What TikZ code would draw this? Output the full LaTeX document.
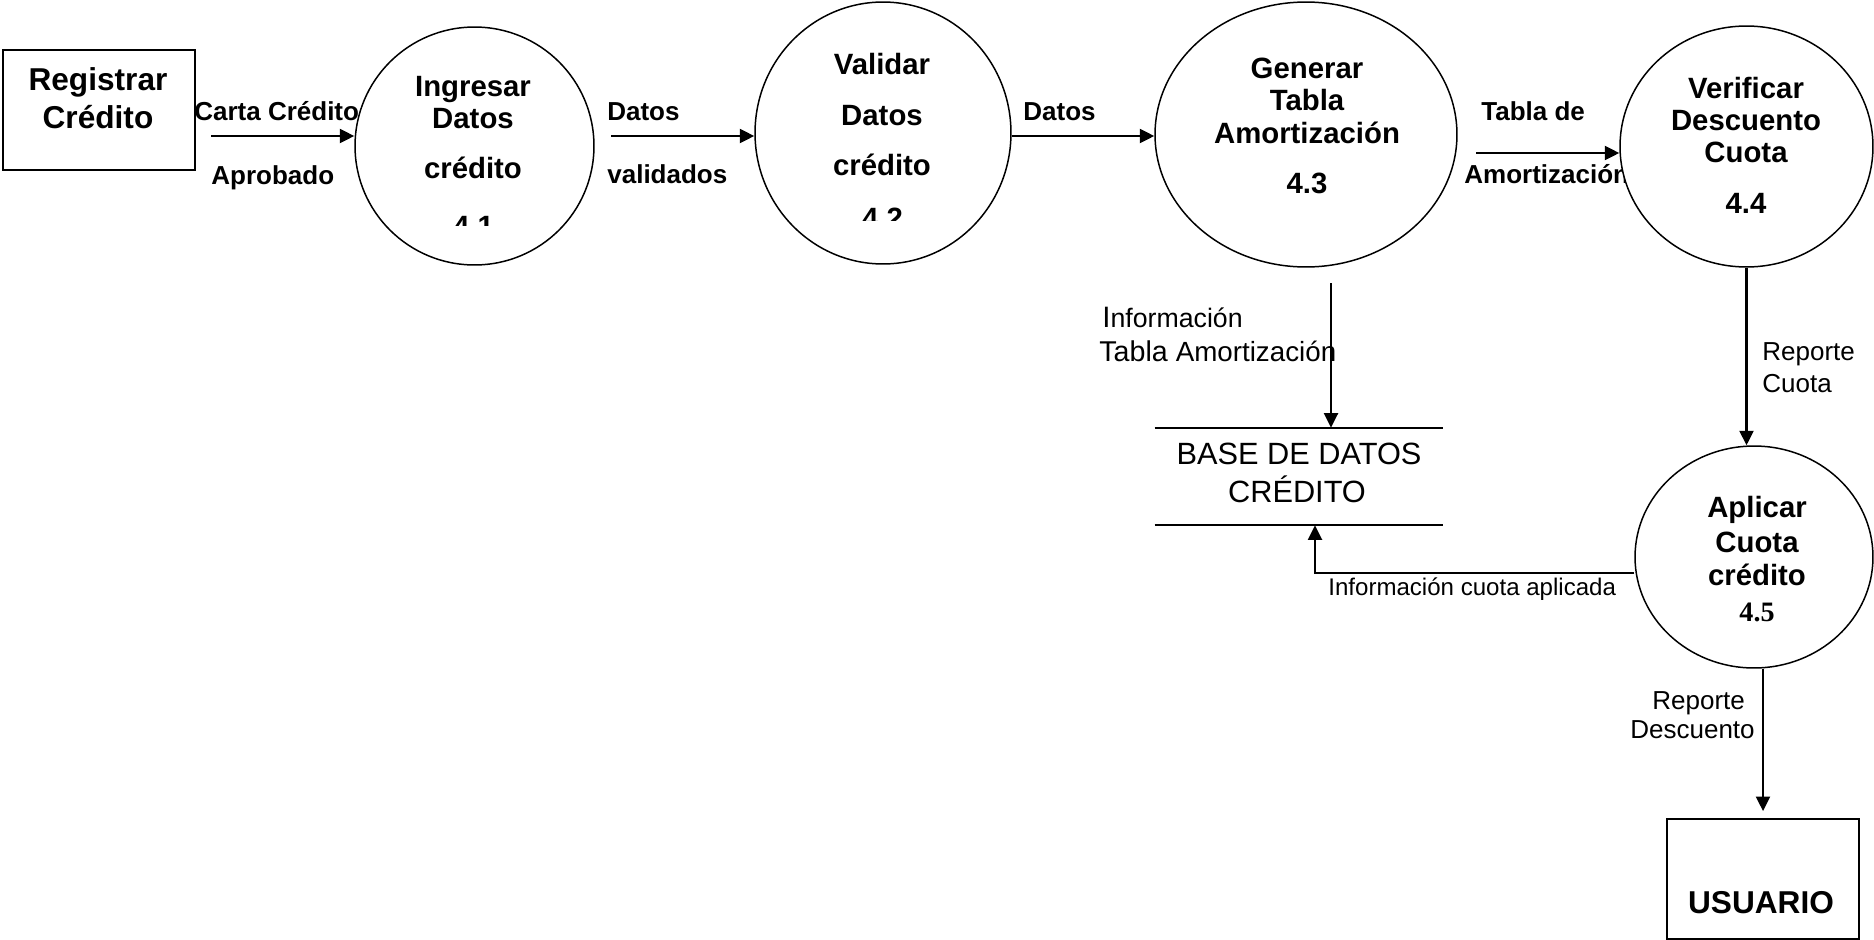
\documentclass[tikz,border=0pt]{standalone}
\usepackage{fontspec}
\setmainfont{Liberation Sans}
\newfontfamily\timesf{Liberation Serif}
\usetikzlibrary{shapes.geometric,arrows.meta}
\begin{document}
\begin{tikzpicture}[x=0.02cm,y=-0.02cm,
  proc/.style={ellipse,draw,line width=0.85pt,fill=white,inner sep=0},
  ent/.style={rectangle,draw,line width=1.1pt,inner sep=0,minimum width=3.84cm,minimum height=2.4cm},
  tb/.style={anchor=base,inner sep=0,font=\fontsize{16.7}{20}\selectfont\bfseries},
  tbox/.style={anchor=base,inner sep=0,font=\fontsize{18}{21}\selectfont\bfseries},
  lb/.style={anchor=base west,inner sep=0,font=\fontsize{14.8}{17}\selectfont\bfseries},
  lr/.style={anchor=base west,inner sep=0,font=\fontsize{14.8}{17}\selectfont},
  flow/.style={line width=1.2pt,-{Triangle[length=0.29cm,width=0.28cm]}}
]
\useasboundingbox (0,0) rectangle (1874,940);

% external entities
\node[ent] (reg) at (99,110) {};
\node[tbox] (rega) at (98,90) {Registrar};
\node[tbox] (regb) at (98,128) {Crédito};
\node[ent] (usr) at (1763,879) {};
\node[tbox] (usrt) at (1761,913) {USUARIO};

% flow labels
\node[lb] (l1a) at (194,120) {Carta Crédito};
\node[lb] (l1b) at (211,184) {Aprobado};
\node[lb] (l2a) at (607,120) {Datos};
\node[lb] (l2b) at (607,183) {validados};
\node[lb] (l3a) at (1023,120) {Datos};
\node[lb] (l4a) at (1481,120) {Tabla de};
\node[lb] (l4b) at (1464,183) {Amortización};
\node[anchor=base west,inner sep=0] (l5a) at (1102,327) {\fontsize{16.8}{19}\selectfont I\fontsize{15.2}{17}\selectfont nformación};
\node[anchor=base west,inner sep=0] (l5b) at (1099,361) {\fontsize{16.3}{18}\selectfont Tabla \fontsize{15.8}{17}\selectfont Amortización};
\node[lr] (l6a) at (1762,360) {Reporte};
\node[lr] (l6b) at (1762,392) {Cuota};
\node[anchor=base west,inner sep=0,font=\fontsize{13.7}{16}\selectfont] (l7) at (1328,595) {Información cuota aplicada};
\node[lr] (l8a) at (1652,709) {Reporte};
\node[lr] (l8b) at (1630,738) {Descuento};

% processes
\node[proc,minimum width=4.78cm,minimum height=4.76cm] (p1) at (474.5,146) {};
\node[tb] (p1a) at (473,96) {Ingresar};
\node[tb] (p1b) at (473,128) {Datos};
\node[tb] (p1c) at (473,178) {crédito};
\begin{scope}
  \clip (430,200) rectangle (520,225);
  \node[tb] (p1d) at (473.5,236) {4.1};
\end{scope}

\node[proc,minimum width=5.12cm,minimum height=5.24cm] (p2) at (883,133) {};
\node[tb] (p2a) at (882,74) {Validar};
\node[tb] (p2b) at (882,125) {Datos};
\node[tb] (p2c) at (882,175) {crédito};
\begin{scope}
  \clip (840,195) rectangle (925,220);
  \node[tb] (p2d) at (882.5,228) {4.2};
\end{scope}

\node[proc,minimum width=6.04cm,minimum height=5.30cm] (p3) at (1306,134.5) {};
\node[tb] (p3a) at (1307,78) {Generar};
\node[tb] (p3b) at (1307,110) {Tabla};
\node[tb] (p3c) at (1307,143) {Amortización};
\node[tb] (p3d) at (1307,193) {4.3};

\node[proc,minimum width=5.06cm,minimum height=4.82cm] (p4) at (1746.5,146.5) {};
\node[tb] (p4a) at (1746,98) {Verificar};
\node[tb] (p4b) at (1746,130) {Descuento};
\node[tb] (p4c) at (1746,162) {Cuota};
\node[tb] (p4d) at (1746,213) {4.4};

\node[proc,minimum width=4.76cm,minimum height=4.44cm] (p5) at (1754,557) {};
\node[tb] (p5a) at (1757,517) {Aplicar};
\node[tb] (p5b) at (1757,552) {Cuota};
\node[tb] (p5c) at (1757,585) {crédito};
\node[anchor=base,inner sep=0,font=\fontsize{16}{18}\selectfont\timesf\bfseries] (p5d) at (1757,621) {4.5};

% data store
\node[inner sep=0,minimum width=5.76cm,minimum height=1.94cm] (db) at (1299,476.5) {};
\draw[line width=1.1pt] (db.north west) -- (db.north east) (db.south west) -- (db.south east);
\node[anchor=base,inner sep=0,font=\fontsize{17.5}{20}\selectfont] (dba) at (1299,464) {BASE DE DATOS};
\node[anchor=base,inner sep=0,font=\fontsize{17.5}{20}\selectfont] (dbb) at (1297,502) {CRÉDITO};

% flows
\coordinate (s1) at (211,136);
\draw[flow] (s1) -- (s1 -| p1.west);
\coordinate (s2) at (611,136);
\draw[flow] (s2) -- (s2 -| p2.west);
\coordinate (s3) at (0,136);
\draw[flow] (s3 -| p2.east) -- (s3 -| p3.west);
\coordinate (s4) at (1476,153);
\draw[flow] (s4) -- (s4 -| p4.west);
\coordinate (s5) at (1331,283);
\draw[flow] (s5) -- (s5 |- db.north);
\draw[flow] (p4.south) -- (p4.south |- p5.north);
\coordinate (k7) at (1315,573);
\draw[flow] (k7 -| p5.west) -- (k7) -- (k7 |- db.south);
\draw[flow,shorten >=0.14cm] (p5.south -| usr.north) -- (usr.north);
\end{tikzpicture}
\end{document}
